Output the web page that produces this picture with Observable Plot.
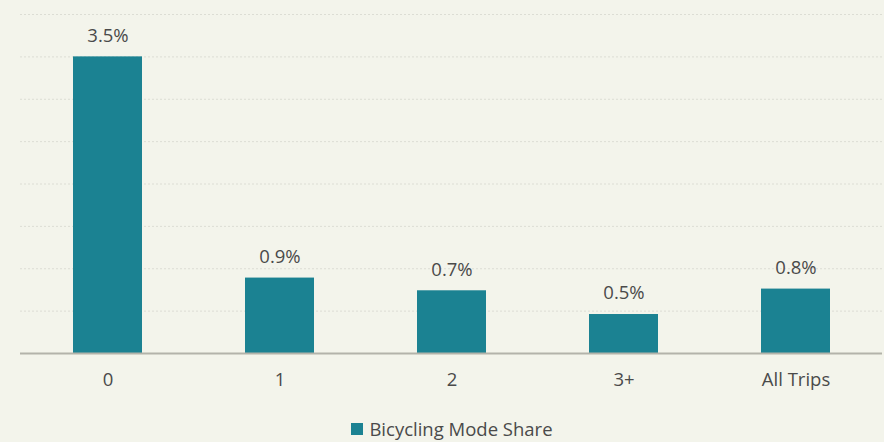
<!DOCTYPE html>
<html>
<head>
<meta charset="utf-8">
<script src="https://cdn.jsdelivr.net/npm/d3@7"></script>
<script src="https://cdn.jsdelivr.net/npm/@observablehq/plot@0.6"></script>
<style>
  html, body { margin: 0; padding: 0; background: #f3f4eb; }
  body { width: 884px; height: 442px; overflow: hidden; font-family: "Open Sans", "Noto Sans", sans-serif; }
  #legend { height: 37px; display: flex; justify-content: center; align-items: center; font-size: 18.5px; color: #4a4a4a; padding-left: 20px; padding-top: 10px; box-sizing: border-box; }
  #legend .sw { width: 12px; height: 12px; background: #1b8292; margin-right: 6px; }
</style>
</head>
<body>
<div id="chart"></div>
<div id="legend"><span class="sw"></span><span>Bicycling Mode Share</span></div>
<script>
const categories = ["0", "1", "2", "3+", "All Trips"];
const shares = [3.5, 0.89, 0.74, 0.46, 0.76];
const gridTicks = [0.5, 1, 1.5, 2, 2.5, 3, 3.5, 4];
const seriesName = "Bicycling Mode Share";

const data = categories.map((c, i) => ({cat: c, v: shares[i]}));

const chart = Plot.plot({
  width: 884,
  height: 405,
  marginLeft: 20,
  marginRight: 2,
  marginTop: 14,
  marginBottom: 52,
  style: {background: "#f3f4eb", fontFamily: "'Open Sans', 'Noto Sans', sans-serif", fontSize: "18.5px", color: "#4a4a4a"},
  x: {domain: categories, paddingInner: 0.6, paddingOuter: 0.3, label: null},
  y: {domain: [0, 4], label: null},
  marks: [
    Plot.ruleY(gridTicks, {stroke: "#dcddd4", strokeDasharray: "2,2", strokeWidth: 1}),
    Plot.barY(data, {x: "cat", y: "v", fill: "#1b8292"}),
    Plot.ruleY([0], {stroke: "#b3b3aa", strokeWidth: 2}),
    Plot.text(data, {x: "cat", y: "v", text: d => d.v.toFixed(1) + "%", dy: -21, fill: "#4a4a4a", fontSize: 18.5}),
    Plot.axisX({tickSize: 0, tickPadding: 19, fontSize: 18.5, fill: "#4a4a4a"}),
    Plot.axisY({ticks: [], tickSize: 0, label: null})
  ]
});
document.getElementById("chart").appendChild(chart);
</script>
</body>
</html>
